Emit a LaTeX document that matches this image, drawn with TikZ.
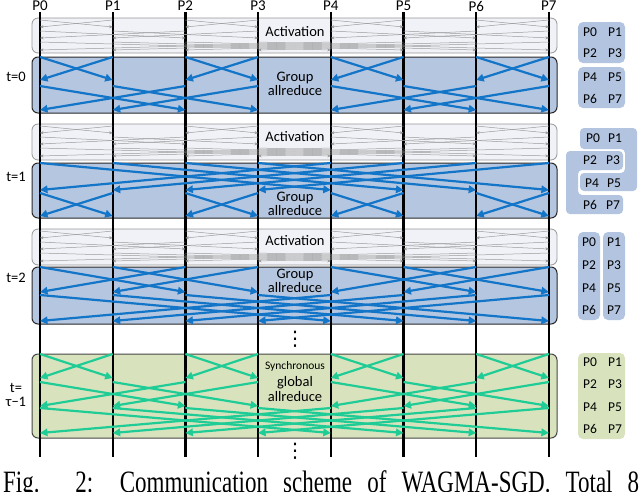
\documentclass[tikz,border=0pt]{standalone}
\usepackage{fontspec}
\setmainfont{Carlito}
\newfontfamily\capfont{Liberation Serif}
\newfontfamily\dejavu{DejaVu Sans}
\usetikzlibrary{arrows.meta}
\definecolor{actfill}{RGB}{240,242,247}
\definecolor{actdraw}{RGB}{150,150,150}
\definecolor{grpfill}{RGB}{181,198,224}
\definecolor{grpdraw}{RGB}{40,40,40}
\definecolor{glbfill}{RGB}{216,227,190}
\definecolor{glbdraw}{RGB}{70,70,70}
\definecolor{gryarrow}{RGB}{155,155,155}
\definecolor{bluarrow}{RGB}{18,117,200}
\definecolor{grnarrow}{RGB}{32,204,150}
\definecolor{rgrp}{RGB}{178,196,224}
\definecolor{rglb}{RGB}{216,227,190}
\tikzset{
  procline/.style={line width=2.4pt, black},
  actbox/.style={fill=actfill, draw=actdraw, line width=0.8pt, rounded corners=6pt},
  grpbox/.style={fill=grpfill, draw=grpdraw, line width=1pt, rounded corners=6pt},
  glbbox/.style={fill=glbfill, draw=glbdraw, line width=1pt, rounded corners=6pt},
  gry/.style={draw=gryarrow, line width=0.5pt, -{Stealth[length=3.5pt,width=3pt]}},
  blu/.style={draw=bluarrow, line width=2.2pt, -{Triangle[length=7.5pt,width=7.5pt]}},
  grn/.style={draw=grnarrow, line width=2.2pt, -{Triangle[length=7.5pt,width=7.5pt]}},
  plabel/.style={font=\fontsize{15}{15}\selectfont, inner sep=0pt},
  tlabel/.style={font=\fontsize{14.5}{14.5}\selectfont, inner sep=0pt, align=center},
  mlabel/.style={font=\fontsize{14.5}{14.5}\selectfont, inner sep=0pt, align=center},
  rlabel/.style={font=\fontsize{13.5}{13.5}\selectfont, inner sep=0pt},
  dotlabel/.style={font=\dejavu\fontsize{20}{20}\selectfont, inner sep=0pt},
  rgrpbox/.style={fill=rgrp, rounded corners=5pt},
  rglbbox/.style={fill=rglb, rounded corners=5pt},
}
% #1 style, #2 distance, #3 y top, #4 y bottom, #5 first indices
\newcommand{\xstage}[5]{%
  \foreach \a in {#5} {%
    \pgfmathtruncatemacro\b{\a+#2}%
    \draw[#1] ({40+72.7*\a},#3) -- ({40+72.7*\b},#4);
    \draw[#1] ({40+72.7*\b},#3) -- ({40+72.7*\a},#4);
  }}
\newcommand{\actstages}[1]{%
  \xstage{gry}{1}{#1+2}{#1+9}{0,2,4,6}
  \xstage{gry}{2}{#1+13}{#1+20}{0,1,4,5}
  \xstage{gry}{4}{#1+24}{#1+32}{0,1,2,3}}
\begin{document}
\begin{tikzpicture}[x=1pt,y=-1pt]
\useasboundingbox (0,0) rectangle (640,491);
% section boxes
\draw[actbox] (32,18) rectangle (557,53);
\draw[grpbox] (32,57) rectangle (557,113);
\draw[actbox] (32,124) rectangle (557,160);
\draw[grpbox] (32,163) rectangle (557,218);
\draw[actbox] (32,229) rectangle (557,265);
\draw[grpbox] (32,267) rectangle (557,324);
\draw[glbbox] (32,354) rectangle (557,438);
% process lines
\foreach \i in {0,...,7} {
  \coordinate (top\i) at ({40+72.7*\i},12);
  \coordinate (bot\i) at ({40+72.7*\i},457);
  \draw[procline] (top\i) -- (bot\i);
  \node[plabel] (lab\i) at ({40+72.7*\i},6) {P\i};
}
% activation traffic
\actstages{18}
\actstages{124}
\actstages{229}
% t=0
\xstage{blu}{1}{57}{80}{0,2,4,6}
\xstage{blu}{2}{86}{110}{0,1,4,5}
% t=1
\xstage{blu}{4}{163}{190}{0,1,2,3}
\xstage{blu}{1}{193}{216}{0,2,4,6}
% t=2
\xstage{blu}{2}{267}{292}{0,1,4,5}
\xstage{blu}{4}{295}{321}{0,1,2,3}
% global
\xstage{grn}{1}{354}{378}{0,2,4,6}
\xstage{grn}{2}{382}{406}{0,1,4,5}
\xstage{grn}{4}{408}{433}{0,1,2,3}
% middle texts
\node[mlabel] (act0) at (295,32) {Activation};
\node[mlabel] (grp0) at (295,84) {Group\\allreduce};
\node[mlabel] (act1) at (295,137) {Activation};
\node[mlabel] (grp1) at (295,204) {Group\\allreduce};
\node[mlabel] (act2) at (295,241) {Activation};
\node[mlabel] (grp2) at (295,281) {Group\\allreduce};
\node[font=\fontsize{11.5}{11.5}\selectfont, inner sep=0pt] (syn) at (295,366) {Synchronous};
\node[mlabel] (glb) at (295,389) {global\\allreduce};
\node[dotlabel] (dots1) at (295,339) {⋮};
\node[dotlabel] (dots2) at (295,451) {⋮};
% left labels
\node[tlabel] (t0) at (16,77) {t=0};
\node[tlabel] (t1) at (16,177) {t=1};
\node[tlabel] (t2) at (16,278) {t=2};
\node[tlabel] (t3) at (16,395) {t=\\τ−1};
% right group boxes t=0
\fill[rgrpbox] (578,22) rectangle (625,63);
\fill[rgrpbox] (578,67) rectangle (625,108);
\node[rlabel] (a0) at (590,32) {P0}; \node[rlabel] (a1) at (615,32) {P1};
\node[rlabel] (a2) at (590,53) {P2}; \node[rlabel] (a3) at (615,53) {P3};
\node[rlabel] (a4) at (590,77) {P4}; \node[rlabel] (a5) at (615,77) {P5};
\node[rlabel] (a6) at (590,99) {P6}; \node[rlabel] (a7) at (615,99) {P7};
% t=1
\fill[rgrp, rounded corners=4pt] (580,128) -- (637,128) -- (637,191) -- (580,191) -- (580,173) -- (625,173) -- (625,149) -- (580,149) -- cycle;
\fill[rgrp, rounded corners=4pt] (566,151) -- (623,151) -- (623,170) -- (578,170) -- (578,195) -- (623,195) -- (623,214) -- (566,214) -- cycle;
\node[rlabel] (b0) at (593,138) {P0}; \node[rlabel] (b1) at (615,138) {P1};
\node[rlabel] (b2) at (590,160) {P2}; \node[rlabel] (b3) at (613,160) {P3};
\node[rlabel] (b4) at (592,183) {P4}; \node[rlabel] (b5) at (614,183) {P5};
\node[rlabel] (b6) at (590,205) {P6}; \node[rlabel] (b7) at (613,205) {P7};
% t=2
\fill[rgrpbox] (578,232) rectangle (600,320);
\fill[rgrpbox] (603,232) rectangle (625,320);
\node[rlabel] (c0) at (589,242) {P0}; \node[rlabel] (c1) at (614,242) {P1};
\node[rlabel] (c2) at (589,265) {P2}; \node[rlabel] (c3) at (614,265) {P3};
\node[rlabel] (c4) at (589,288) {P4}; \node[rlabel] (c5) at (614,288) {P5};
\node[rlabel] (c6) at (589,310) {P6}; \node[rlabel] (c7) at (614,310) {P7};
% global
\fill[rglbbox] (578,353) rectangle (625,439);
\node[rlabel] (d0) at (590,362) {P0}; \node[rlabel] (d1) at (615,362) {P1};
\node[rlabel] (d2) at (590,384) {P2}; \node[rlabel] (d3) at (615,384) {P3};
\node[rlabel] (d4) at (590,407) {P4}; \node[rlabel] (d5) at (615,407) {P5};
\node[rlabel] (d6) at (590,429) {P6}; \node[rlabel] (d7) at (615,429) {P7};
% caption (cut by the page edge, as in the reference)
\node[anchor=north west, inner sep=0pt, font=\capfont\fontsize{23}{23}\selectfont] (cap) at (3,470) {\scalebox{1}[1.35]{\makebox[636pt][s]{Fig. 2: Communication scheme of WAGMA-SGD. Total 8}}};
\end{tikzpicture}
\end{document}
